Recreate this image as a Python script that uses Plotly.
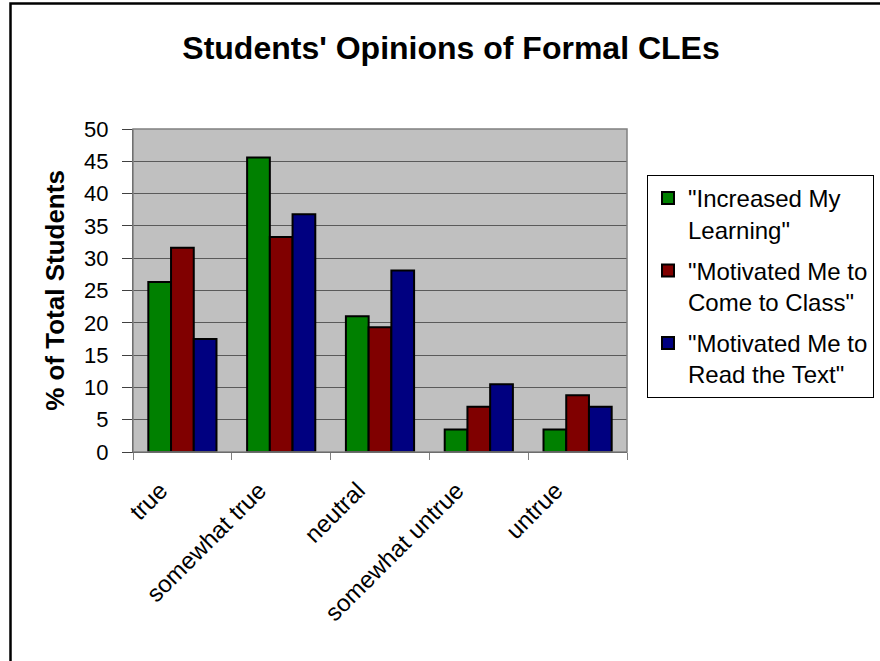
import plotly.graph_objects as go

categories = ["true", "somewhat true", "neutral", "somewhat untrue", "untrue"]
series_names = ['"Increased My<br>Learning"',
                '"Motivated Me to<br>Come to Class"',
                '"Motivated Me to<br>Read the Text"']
increased_learning = [26.3, 45.6, 21.0, 3.5, 3.5]
come_to_class = [31.6, 33.3, 19.3, 7.0, 8.8]
read_text = [17.5, 36.8, 28.1, 10.5, 7.0]
y_ticks = [0, 5, 10, 15, 20, 25, 30, 35, 40, 45, 50]

colors = ["#008000", "#800000", "#000080"]
series_values = [increased_learning, come_to_class, read_text]

FONT = "Liberation Sans, Arial, sans-serif"

fig = go.Figure()
for i, (name, vals) in enumerate(zip(series_names, series_values)):
    fig.add_trace(go.Bar(
        x=categories, y=vals, name=name,
        legendgroup=f"g{i}",
        marker=dict(color=colors[i], line=dict(color="black", width=2)),
    ))

W, H = 880, 661
L, R, T, B = 133, 253, 129, 209
pw, ph = W - L - R, H - T - B

fig.update_layout(
    width=W, height=H,
    margin=dict(l=L, r=R, t=T, b=B, autoexpand=False),
    paper_bgcolor="white",
    plot_bgcolor="#C0C0C0",
    barmode="group", bargap=0.31, bargroupgap=0,
    font=dict(family=FONT, color="black"),
    title=dict(text="<b>Students' Opinions of Formal CLEs</b>",
               x=451 / W, xanchor="center", xref="container",
               y=1 - 48 / H, yanchor="middle", yref="container",
               font=dict(family=FONT, size=32, color="black")),
    legend=dict(x=(647 - L) / pw, xanchor="left",
                y=(H - B - 175) / ph, yanchor="top",
                bgcolor="white", bordercolor="black", borderwidth=1,
                font=dict(family=FONT, size=24, color="black"),
                valign="top", tracegroupgap=7, itemwidth=30,
                entrywidth=260, entrywidthmode="pixels",
                traceorder="grouped"),
    showlegend=True,
)

fig.update_xaxes(
    type="category", tickson="boundaries",
    ticks="outside", ticklen=7, tickcolor="#808080", tickwidth=1,
    tickangle=-45, tickfont=dict(family=FONT, size=24, color="black"),
    ticklabelstandoff=14, ticklabelshift=-22,
    showline=True, linecolor="#333333", linewidth=1, mirror=False,
    showgrid=False, zeroline=False,
)
fig.update_yaxes(
    range=[0, 50], tickvals=y_ticks, ticktext=[str(v) for v in y_ticks],
    ticks="outside", ticklen=10, tickcolor="#404040", tickwidth=1,
    ticklabelstandoff=9,
    tickfont=dict(family=FONT, size=22, color="black"),
    showline=True, linecolor="#404040", linewidth=1,
    showgrid=True, gridcolor="#5a5a5a", gridwidth=1,
    zeroline=False,
    title=dict(text="<b>% of Total Students</b>",
               font=dict(family=FONT, size=26, color="black"), standoff=12),
)

# plot-area border (top and right) in gray
fig.add_shape(type="rect", xref="paper", yref="paper", x0=0, x1=1, y0=0, y1=1,
              line=dict(color="#808080", width=1.5), fillcolor="rgba(0,0,0,0)", layer="above")
# outer chart border (left and top visible, right/bottom run off page)
fig.add_shape(type="rect", xref="paper", yref="paper",
              x0=(10.5 - L) / pw, x1=(W + 20 - L) / pw,
              y0=-(B + 20) / ph, y1=1 + (T - 3.5) / ph,
              line=dict(color="black", width=2.5), fillcolor="rgba(0,0,0,0)", layer="above")

fig.write_html("out.html", config={"displayModeBar": False},
               post_script="document.body.style.margin='0';document.body.style.overflow='hidden';")
